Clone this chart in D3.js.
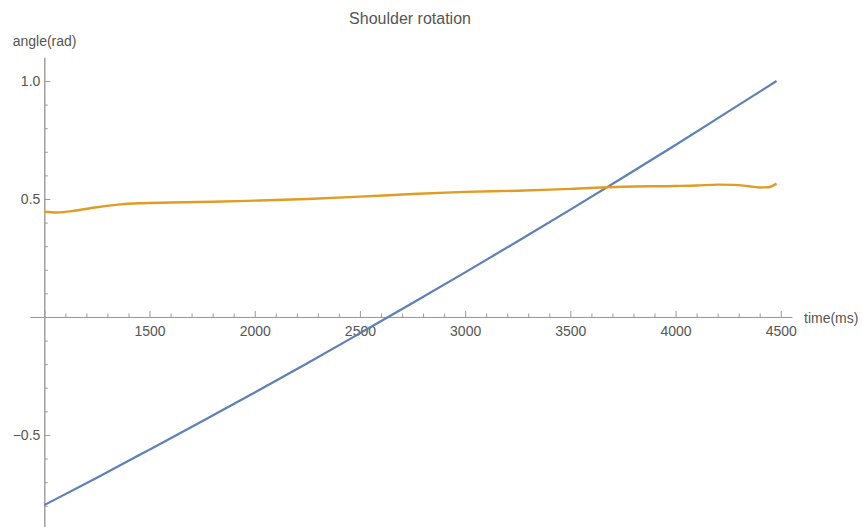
<!DOCTYPE html>
<html>
<head>
<meta charset="utf-8">
<script src="https://cdn.jsdelivr.net/npm/d3@7"></script>
<style>
  html, body { margin: 0; padding: 0; background: #fff; }
  svg { display: block; font-family: "Liberation Sans", Arial, sans-serif; }
  .axis text { fill: #555; font-size: 14px; }
  .axis path, .axis line { stroke: #9a9a9a; }
</style>
</head>
<body>
<svg id="chart" width="862" height="527"></svg>
<script>
// Shoulder rotation: target angle (blue) and measured angle (orange) vs time
const timeTarget = [1000, 1250, 1500, 1750, 2000, 2250, 2500, 2750, 3000, 3250, 3500, 3750, 4000, 4250, 4480];
const angleTarget = [-0.797, -0.681, -0.562, -0.442, -0.320, -0.196, -0.069, 0.059, 0.189, 0.321, 0.455, 0.591, 0.729, 0.870, 1.000];

const timeMeasured = [1000, 1060, 1150, 1250, 1350, 1450, 1600, 1800, 2000, 2250, 2500, 2750, 3000, 3250, 3500, 3750, 4000, 4100, 4200, 4280, 4340, 4400, 4440, 4480];
const angleMeasured = [0.446, 0.443, 0.451, 0.465, 0.476, 0.482, 0.485, 0.488, 0.493, 0.500, 0.510, 0.521, 0.530, 0.535, 0.543, 0.552, 0.555, 0.557, 0.561, 0.560, 0.555, 0.549, 0.550, 0.566];

const xMajorTicks = [1000, 1500, 2000, 2500, 3000, 3500, 4000, 4500];
const xTickLabels = ["", "1500", "2000", "2500", "3000", "3500", "4000", "4500"];
const yMajorTicks = [-0.5, 0, 0.5, 1.0];
const yTickLabels = ["\u22120.5", "", "0.5", "1.0"];

const svg = d3.select("#chart");

const x = d3.scaleLinear().domain([932, 4552]).range([30, 791.7]);
const y = d3.scaleLinear().domain([-0.89, 1.1]).range([527, 57.4]);

const xMinor = d3.range(1000, 4501, 100).filter(v => v % 500 !== 0);
const yMinor = d3.range(-8, 11, 1).map(v => v / 10).filter(v => Math.abs((v * 10) % 5) > 1e-9);

// x axis: minor ticks, then major ticks with labels (ticks point up)
svg.append("g").attr("class", "axis")
  .attr("transform", `translate(0,${y(0)})`)
  .call(d3.axisBottom(x).tickValues(xMinor).tickSizeInner(-3.5).tickSizeOuter(0).tickFormat(""));
svg.append("g").attr("class", "axis")
  .attr("transform", `translate(0,${y(0)})`)
  .call(d3.axisBottom(x).tickValues(xMajorTicks).tickSizeInner(-6).tickSizeOuter(0).tickPadding(9)
    .tickFormat((d, i) => xTickLabels[i]));

// y axis: minor ticks, then major ticks with labels (ticks point right)
svg.append("g").attr("class", "axis")
  .attr("transform", `translate(${x(1000)},0)`)
  .call(d3.axisLeft(y).tickValues(yMinor).tickSizeInner(-3.5).tickSizeOuter(0).tickFormat(""));
svg.append("g").attr("class", "axis")
  .attr("transform", `translate(${x(1000)},0)`)
  .call(d3.axisLeft(y).tickValues(yMajorTicks).tickSizeInner(-6).tickSizeOuter(0).tickPadding(4)
    .tickFormat((d, i) => yTickLabels[i]));

// axis titles and chart title
svg.append("text").attr("x", 12.7).attr("y", 46)
  .attr("fill", "#555").attr("font-size", 14).text("angle(rad)");
svg.append("text").attr("x", 804).attr("y", 322.5)
  .attr("fill", "#555").attr("font-size", 14).text("time(ms)");
svg.append("text").attr("x", 410).attr("y", 24).attr("text-anchor", "middle")
  .attr("fill", "#555").attr("font-size", 16).text("Shoulder rotation");

const line = d3.line()
  .x(d => x(d[0]))
  .y(d => y(d[1]))
  .curve(d3.curveMonotoneX);

svg.append("path")
  .datum(timeTarget.map((t, i) => [t, angleTarget[i]]))
  .attr("fill", "none").attr("stroke", "#5E81B5").attr("stroke-width", 2.2)
  .attr("d", line);

svg.append("path")
  .datum(timeMeasured.map((t, i) => [t, angleMeasured[i]]))
  .attr("fill", "none").attr("stroke", "#E19C24").attr("stroke-width", 2.4)
  .attr("d", line);
</script>
</body>
</html>
